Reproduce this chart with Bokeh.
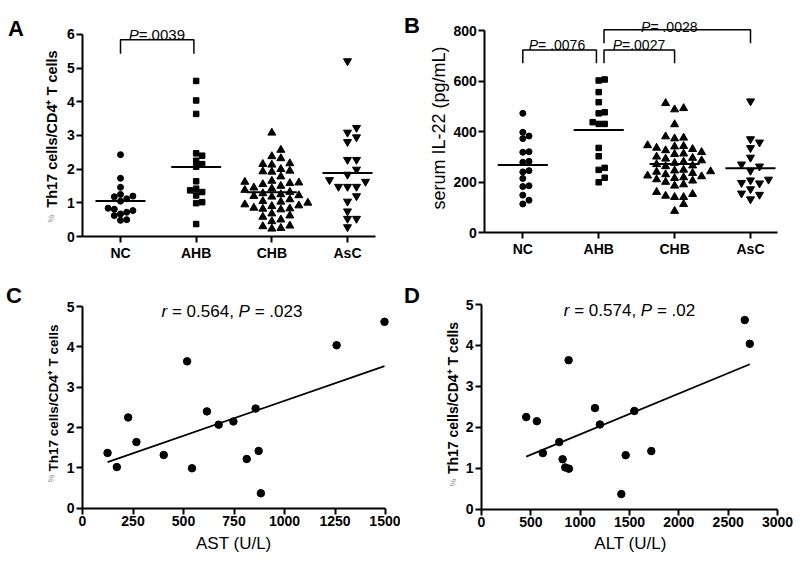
import numpy as np
from bokeh.plotting import figure
from bokeh.layouts import column, row
from bokeh.models import Label, FixedTicker
from bokeh.embed import file_html
from bokeh.resources import INLINE

FONT = "Liberation Sans"

# ---------------- data ----------------
categories = ["NC", "AHB", "CHB", "AsC"]

# Panel A: % Th17 cells / CD4+ T cells
th17_nc = [2.43, 1.73, 1.46, 1.25, 1.20, 1.18, 1.12, 1.05, 0.84, 0.81, 0.77, 0.72, 0.67, 0.62, 0.50, 0.48]
th17_ahb = [1.37, 1.02, 2.25, 1.64, 1.32, 3.64, 0.99, 2.40, 2.07, 2.15, 1.22, 2.47, 1.42, 0.37, 4.04, 4.62]
th17_chb = [3.08, 2.57, 2.38, 2.32, 2.17, 2.15, 2.13, 2.00, 1.95, 1.93, 1.92, 1.78, 1.65, 1.62, 1.60, 1.58,
            1.55, 1.50, 1.45, 1.42, 1.38, 1.32, 1.28, 1.25, 1.22, 1.20, 1.18, 1.10, 1.05, 1.03, 1.00, 0.95,
            0.92, 0.90, 0.85, 0.83, 0.82, 0.80, 0.68, 0.62, 0.58, 0.50, 0.45, 0.32, 0.30, 0.25, 0.23]
th17_asc = [5.21, 3.23, 3.09, 2.95, 2.81, 2.28, 2.28, 1.99, 1.84, 1.68, 1.63, 1.48, 1.48, 1.48, 1.20, 1.04,
            0.75, 0.53, 0.53, 0.28]

# Panel B: serum IL-22 (pg/mL)
il22_nc = [472, 397, 382, 372, 320, 318, 282, 278, 245, 240, 214, 185, 182, 148, 128, 113]
il22_ahb = [606, 602, 556, 516, 476, 472, 437, 430, 430, 335, 302, 256, 248, 217, 199]
il22_chb = [512, 492, 487, 428, 380, 375, 372, 345, 342, 340, 335, 330, 325, 318, 312, 310, 300, 295, 292,
            285, 280, 275, 270, 265, 262, 248, 245, 242, 240, 235, 230, 225, 222, 218, 215, 210, 205, 200,
            190, 185, 160, 152, 145, 140, 140, 112, 85]
il22_asc = [520, 370, 357, 335, 297, 270, 262, 245, 210, 207, 197, 195, 172, 155, 150, 132]

# Panels C/D: AHB patients, same Th17 values (th17_ahb) against AST / ALT
ast_ahb = [124, 170, 226, 267, 402, 518, 542, 616, 674, 747, 813, 857, 872, 883, 1258, 1495]
alt_ahb = [622, 849, 453, 788, 1461, 883, 886, 1549, 1200, 561, 822, 1150, 1721, 1417, 2719, 2668]

# significance / correlation texts
p_text_a = ["=.0039"]
p_text_b = ["= .0076", "=.0027", "= .0028"]
r_c, p_c = "0.564", ".023"
r_d, p_d = "0.574", ".02"

# ---------------- helpers ----------------
W = {'P': 667, '=': 584, '.': 278, ' ': 278, ',': 278, 'r': 333}
W.update({d: 556 for d in "0123456789"})


def tw(s, size):
    return sum(W.get(c, 556) for c in s) * size / 1000.0


class Panel:
    def __init__(self, box, xa, pxa, sx, ya, pya, sy, yaxis_at, xaxis_at):
        L, T, Wd, Ht = box
        self.L, self.T, self.W, self.H = L, T, Wd, Ht
        self.sx, self.sy = sx, sy
        x0 = xa - (pxa - L) / sx
        y0 = ya - (T + Ht - pya) / sy
        p = figure(width=Wd, height=Ht, x_range=(x0, x0 + Wd / sx), y_range=(y0, y0 + Ht / sy),
                   output_backend="svg", toolbar_location=None, title=None,
                   min_border=0, min_border_left=0, min_border_right=0,
                   min_border_top=0, min_border_bottom=0)
        p.outline_line_color = None
        p.xgrid.visible = False
        p.ygrid.visible = False
        p.xaxis.fixed_location = xaxis_at
        p.yaxis.fixed_location = yaxis_at
        for ax in p.axis:
            ax.axis_line_width = 2
            ax.axis_line_color = "black"
            ax.major_tick_line_width = 2
            ax.major_tick_line_color = "black"
            ax.major_tick_out = 6
            ax.major_tick_in = 0
            ax.minor_tick_line_color = None
            ax.major_label_text_font = FONT
            ax.major_label_text_font_size = "14px"
            ax.major_label_text_font_style = "bold"
            ax.major_label_text_color = "black"
            ax.major_label_standoff = 2
        self.p = p

    def label(self, text, px, py, size, style="normal", angle=0.0, align="left",
              baseline="alphabetic", color="black"):
        # px, py: page pixel position (top-left origin)
        self.p.add_layout(Label(x=px - self.L, y=self.T + self.H - py, x_units="screen",
                                y_units="screen", text=text, angle=angle, text_font=FONT,
                                text_font_size=f"{size}px", text_font_style=style,
                                text_align=align, text_baseline=baseline, text_color=color))

    def rich(self, pieces, x, y, size):
        total = sum(tw(t, size) for t, _ in pieces)
        off = -total / 2.0
        for t, it in pieces:
            lead = len(t) - len(t.lstrip(" "))
            core = t.strip(" ")
            trail = len(t) - lead - len(core)
            off += tw(" " * lead, size)
            self.p.add_layout(Label(x=x, y=y, x_offset=off, text=core, text_font=FONT,
                                    text_font_size=f"{size}px",
                                    text_font_style="italic" if it else "normal",
                                    text_align="left", text_baseline="alphabetic",
                                    text_color="black"))
            off += tw(core, size) + tw(" " * trail, size)


def swarm(ypx, spacing, height):
    ypx = np.asarray(ypx, dtype=float)
    offs = np.zeros(len(ypx))
    placed = []
    cands = [0.0]
    for j in range(1, 30):
        cands += [j * spacing, -j * spacing]
    for i in np.argsort(ypx):
        for c in cands:
            if all(not (abs(ypx[i] - py) < height and abs(c - px) < spacing * 0.99) for py, px in placed):
                break
        placed.append((ypx[i], c))
        offs[i] = c
    return offs


markers = ["circle", "square", "triangle", "inverted_triangle"]
msize = [6, 5.5, 8, 8]
mspace = [6.2, 6.0, 9.0, 9.0]
mheight = [6, 6, 7, 7]
positions = np.arange(1, len(categories) + 1)


def column_scatter(pan, groups):
    p = pan.p
    for i, g in enumerate(groups):
        v = np.asarray(g, dtype=float)
        offs = swarm(v * pan.sy, mspace[i], mheight[i]) / pan.sx
        p.scatter(positions[i] + offs, v, marker=markers[i], size=msize[i],
                  fill_color="black", line_color="black")
        m = v.mean()
        p.segment(x0=[positions[i] - 0.33], x1=[positions[i] + 0.33], y0=[m], y1=[m],
                  line_width=2, line_color="black")
    p.xaxis.ticker = FixedTicker(ticks=list(positions))
    p.xaxis.major_label_overrides = {int(k): c for k, c in zip(positions, categories)}


def brackets(p, items):
    xs, ys = [], []
    for xl, xr_, yt, ybl, ybr in items:
        xs.append([xl, xl, xr_, xr_])
        ys.append([ybl, yt, yt, ybr])
    p.multi_line(xs, ys, line_color="black", line_width=1.5)


TH17_LABEL = "Th17 cells/CD4\u207a T cells"

# ---------------- Panel A ----------------
A = Panel((0, 0, 400, 280), 1, 120, 75.67, 0, 236, 33.67, 0.5, 0)
column_scatter(A, [th17_nc, th17_ahb, th17_chb, th17_asc])
A.p.xaxis.bounds = (0.5, 4.37)
A.p.yaxis.bounds = (0, 6)
A.p.yaxis.ticker = FixedTicker(ticks=[0, 1, 2, 3, 4, 5, 6])
brackets(A.p, [(1, 1.97, 5.84, 5.43, 5.43)])
A.rich([("P", True), (p_text_a[0], False)], 1.48, 6.0, 15)
A.label("A", 7.5, 28.3, 22, "bold")
A.label(TH17_LABEL, 51, 128.5, 14.5, "bold", np.pi / 2, "center", "middle")
A.label("%", 50, 218, 9, "normal", np.pi / 2, "center", "middle", "#888888")

# ---------------- Panel B ----------------
B = Panel((400, 0, 400, 280), 1, 522.3, 75.9, 0, 232, 0.2525, 0.5, 0)
column_scatter(B, [il22_nc, il22_ahb, il22_chb, il22_asc])
B.p.xaxis.bounds = (0.5, 4.35)
B.p.yaxis.bounds = (0, 800)
B.p.yaxis.ticker = FixedTicker(ticks=[0, 200, 400, 600, 800])
brackets(B.p, [(1, 1.97, 723, 670, 670), (2.07, 3, 723, 670, 670), (2.07, 4, 803, 750, 750)])
B.rich([("P", True), (p_text_b[0], False)], 1.45, 742, 14)
B.rich([("P", True), (p_text_b[1], False)], 2.53, 742, 14)
B.rich([("P", True), (p_text_b[2], False)], 2.93, 815, 14)
B.label("B", 403.5, 25, 22, "bold")
B.label("serum IL-22 (pg/mL)", 438.5, 127.5, 18, "normal", np.pi / 2, "center", "middle")

# ---------------- Panel C ----------------
C = Panel((0, 280, 400, 282), 0, 82, 0.202, 0, 507.7, 40.34, 0, 0)
C.p.xaxis.ticker = FixedTicker(ticks=[0, 250, 500, 750, 1000, 1250, 1500])
C.p.xaxis.bounds = (0, 1500)
C.p.yaxis.ticker = FixedTicker(ticks=[0, 1, 2, 3, 4, 5])
C.p.yaxis.bounds = (0, 5)
C.p.scatter(ast_ahb, th17_ahb, marker="circle", size=7.5, fill_color="black", line_color="black")
k, b0 = np.polyfit(ast_ahb, th17_ahb, 1)
xx = np.array([min(ast_ahb), max(ast_ahb)], dtype=float)
C.p.line(xx, k * xx + b0, line_color="black", line_width=1.8)
C.rich([("r", True), (" = " + r_c + ", ", False), ("P", True), (" = " + p_c, False)], 740, 4.88, 17)
C.label("C", 5.5, 295, 22, "bold")
C.label(TH17_LABEL, 52.5, 397.5, 13.5, "bold", np.pi / 2, "center", "middle")
C.label("%", 50, 478, 9, "normal", np.pi / 2, "center", "middle", "#888888")
C.label("AST (U/L)", 233.3, 543, 17, "normal", 0, "center", "alphabetic")

# ---------------- Panel D ----------------
D = Panel((400, 280, 400, 282), 0, 481, 0.09867, 0, 508.7, 40.94, 0, 0)
D.p.xaxis.ticker = FixedTicker(ticks=[0, 500, 1000, 1500, 2000, 2500, 3000])
D.p.xaxis.bounds = (0, 3000)
D.p.yaxis.ticker = FixedTicker(ticks=[0, 1, 2, 3, 4, 5])
D.p.yaxis.bounds = (0, 5)
D.p.scatter(alt_ahb, th17_ahb, marker="circle", size=7.5, fill_color="black", line_color="black")
k2, b2 = np.polyfit(alt_ahb, th17_ahb, 1)
xx2 = np.array([min(alt_ahb), max(alt_ahb)], dtype=float)
D.p.line(xx2, k2 * xx2 + b2, line_color="black", line_width=1.8)
D.rich([("r", True), (" = " + r_d + ", ", False), ("P", True), (" = " + p_d, False)], 1500, 4.85, 17)
D.label("D", 403.5, 295, 22, "bold")
D.label(TH17_LABEL, 452.5, 397.5, 14, "bold", np.pi / 2, "center", "middle")
D.label("%", 452, 482, 9, "normal", np.pi / 2, "center", "middle", "#888888")
D.label("ALT (U/L)", 630, 543.3, 17, "normal", 0, "center", "alphabetic")

layout = column(row(A.p, B.p), row(C.p, D.p))
open("out.html", "w").write(file_html(layout, INLINE))
